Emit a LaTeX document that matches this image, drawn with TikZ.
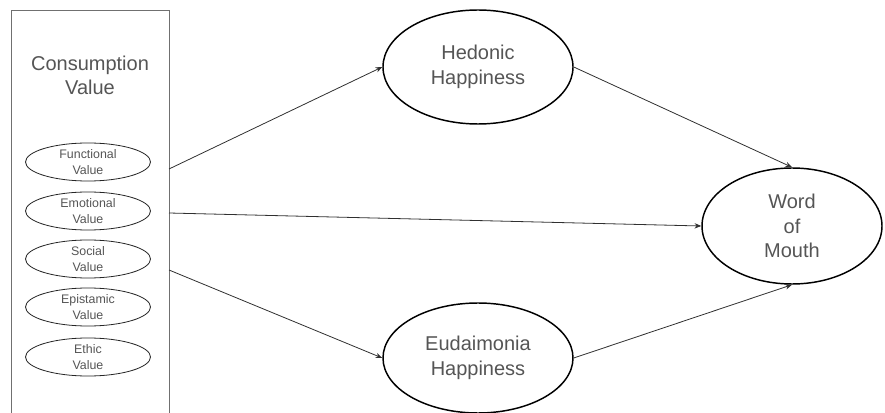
\documentclass[tikz,border=0pt]{standalone}
\usepackage{fontspec}
\setmainfont{Liberation Sans}
\usetikzlibrary{shapes.geometric,arrows.meta}
\definecolor{txt}{HTML}{555555}
\definecolor{boxc}{HTML}{707070}
\definecolor{linec}{HTML}{303030}
\tikzset{
  bigell/.style={ellipse, draw=black, line width=1.1pt, inner sep=0pt, text=txt,
    font=\fontsize{15}{18.5}\selectfont, align=center},
  smallell/.style={ellipse, draw=black!85, line width=0.6pt, minimum width=93.75pt,
    minimum height=28.5pt, inner sep=0pt, text=txt, font=\fontsize{9.3}{12}\selectfont, align=center},
  conn/.style={draw=linec, line width=0.6pt, -{Stealth[length=5pt,width=4pt]}},
  bigtxt/.style={text=txt, font=\fontsize{15}{18}\selectfont, align=center, inner sep=0pt}
}
\begin{document}
\begin{tikzpicture}[x=0.75pt,y=-0.75pt]
\useasboundingbox (0,0) rectangle (885,413);
% left box
\draw[draw=boxc, line width=0.7pt] (11,420) -- (11,10) -- (169,10) -- (169,420);
\coordinate (s1) at (169,169);
\coordinate (s2) at (169,213);
\coordinate (s3) at (169,270);
\node[bigtxt] (cv) at (90,75) {Consumption\\Value};
\node[smallell] (fv) at (88,162) {Functional\\Value};
\node[smallell] (emv) at (88,211) {Emotional\\Value};
\node[smallell] (sv) at (88,259) {Social\\Value};
\node[smallell] (epv) at (88,307) {Epistamic\\Value};
\node[smallell] (etv) at (88,357) {Ethic\\Value};
% big ellipses
\node[bigell, minimum width=142.5pt, minimum height=85.5pt] (hed) at (478,67) {Hedonic\\Happiness};
\node[bigell, minimum width=142.5pt, minimum height=82.5pt] (eud) at (478,358) {Eudaimonia\\Happiness};
\node[bigell, minimum width=135pt, minimum height=87pt] (wom) at (792,226) {Word\\of\\Mouth};
% connectors
\draw[conn] (s1) -- (hed.west);
\draw[conn] (s2) -- (wom.west);
\draw[conn] (s3) -- (eud.west);
\draw[conn] (hed.east) -- (wom.north);
\draw[conn] (eud.east) -- (wom.south);
\end{tikzpicture}
\end{document}
